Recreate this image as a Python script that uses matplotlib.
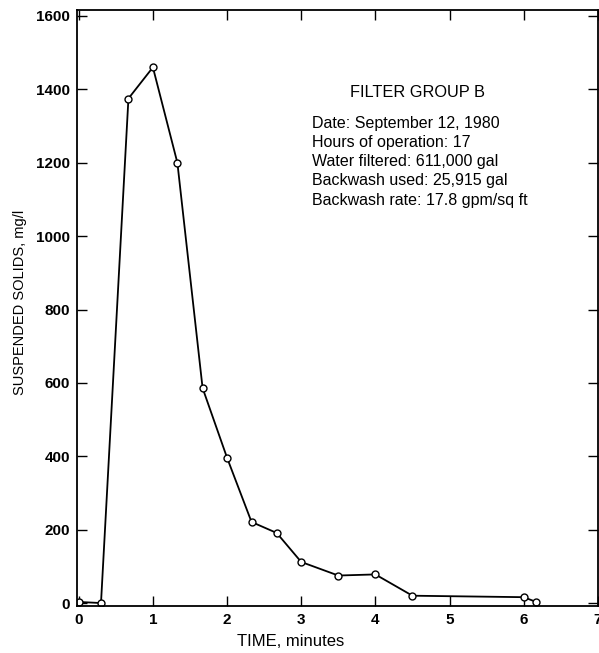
import matplotlib.pyplot as plt

plt.rcParams['font.family'] = ['Liberation Sans', 'DejaVu Sans']

# Suspended solids in backwash water vs time
time_min = [0.0, 0.3, 0.67, 1.0, 1.33, 1.67, 2.0, 2.33, 2.67, 3.0, 3.5, 4.0, 4.5, 6.0, 6.17]
solids = [3, 0, 1375, 1460, 1200, 586, 396, 221, 191, 112, 75, 78, 20, 16, 3]

x_ticks = [0, 1, 2, 3, 4, 5, 6, 7]
y_ticks = [0, 200, 400, 600, 800, 1000, 1200, 1400, 1600]

info_lines = [
    "Date: September 12, 1980",
    "Hours of operation: 17",
    "Water filtered: 611,000 gal",
    "Backwash used: 25,915 gal",
    "Backwash rate: 17.8 gpm/sq ft",
]

fig = plt.figure(figsize=(5.99, 6.53), dpi=100)
ax = fig.add_axes([0.129, 0.072, 0.869, 0.912])

ax.plot(time_min, solids, "-", color="black", lw=1.3, marker="o",
        markersize=5, markerfacecolor="white", markeredgecolor="black", markeredgewidth=1.0)

ax.set_xlim(-0.02, 7.0)
ax.set_ylim(-8, 1615)
ax.set_xticks(x_ticks)
ax.set_yticks(y_ticks)
ax.tick_params(direction="in", top=True, right=True, length=7, width=1.0,
               labelsize=11, pad=5)
for lab in ax.get_xticklabels() + ax.get_yticklabels():
    lab.set_fontweight("bold")
for s in ax.spines.values():
    s.set_linewidth(1.3)

ax.set_xlabel("TIME, minutes", fontsize=12)
ax.xaxis.set_label_coords(0.41, -0.047)
ax.set_ylabel("SUSPENDED SOLIDS, mg/l", fontsize=10.5)
ax.yaxis.set_label_coords(-0.097, 0.51)

# Annotation block
ax.text(0.653, 0.863, "FILTER GROUP B", transform=ax.transAxes,
        ha="center", va="center", fontsize=11.8)
for i, line in enumerate(info_lines):
    ax.text(0.4515, 0.811 - i * 0.0324, line, transform=ax.transAxes,
            ha="left", va="center", fontsize=11.5)

fig.savefig("out.png", dpi=100)
